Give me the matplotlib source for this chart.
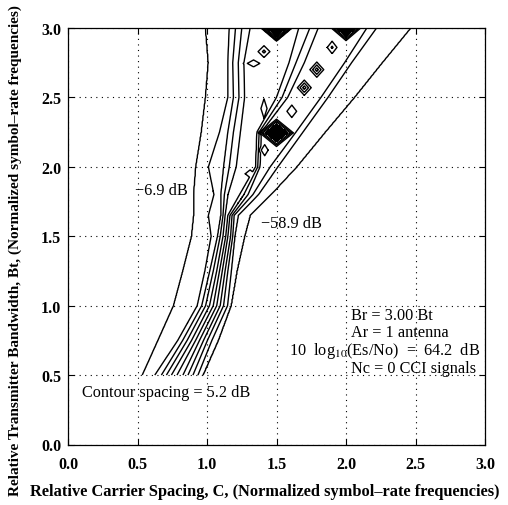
import numpy as np
import matplotlib
matplotlib.use('Agg')
import matplotlib.pyplot as plt

plt.rcParams['font.family'] = ['Liberation Serif', 'DejaVu Serif']
plt.rcParams['mathtext.fontset'] = 'stix'
plt.rcParams['contour.negative_linestyle'] = 'solid'

# contour levels in dB (spacing 5.2 dB)
levels = [-58.9, -53.7, -48.5, -43.3, -38.1, -32.9, -27.7, -22.5, -17.3, -12.1, -6.9]
levels_lr = levels[::-1]   # -6.9 on the left ... -58.9 on the right

bt_rows = [0.50, 0.75, 1.00, 1.25, 1.50, 1.65, 1.80, 2.00, 2.25, 2.50, 2.75, 3.00]
# C position of each level (-6.9 ... -58.9) on every row
crossings = [
    [0.535, 0.625, 0.672, 0.708, 0.744, 0.784, 0.827, 0.863, 0.899, 0.935, 0.970],
    [0.648, 0.790, 0.825, 0.857, 0.889, 0.918, 0.946, 0.975, 1.003, 1.035, 1.080],
    [0.760, 0.930, 0.962, 0.990, 1.018, 1.045, 1.070, 1.095, 1.119, 1.148, 1.172],
    [0.827, 0.985, 1.020, 1.045, 1.070, 1.090, 1.110, 1.130, 1.150, 1.175, 1.215],
    [0.890, 1.030, 1.076, 1.095, 1.115, 1.135, 1.150, 1.170, 1.185, 1.200, 1.270],
    [0.905, 1.010, 1.100, 1.115, 1.130, 1.150, 1.165, 1.180, 1.195, 1.225, 1.310],
    [0.905, 1.050, 1.100, 1.125, 1.150, 1.235, 1.265, 1.295, 1.330, 1.370, 1.460],
    [0.920, 1.010, 1.120, 1.160, 1.210, 1.350, 1.365, 1.380, 1.455, 1.510, 1.645],
    [0.960, 1.090, 1.150, 1.190, 1.240, 1.360, 1.375, 1.390, 1.640, 1.690, 1.850],
    [0.990, 1.150, 1.190, 1.230, 1.270, 1.500, 1.540, 1.580, 1.820, 1.870, 2.060],
    [1.010, 1.150, 1.185, 1.225, 1.265, 1.590, 1.640, 1.700, 1.990, 2.040, 2.260],
    [0.990, 1.160, 1.205, 1.250, 1.310, 1.660, 1.740, 1.800, 2.150, 2.220, 2.465],
]

# closed islands: centre C, centre Bt, half width, half height, floor (dB), rise (dB)
isl_c = [1.415, 1.50, 1.61, 1.70, 1.79, 1.90, 2.00, 1.50, 1.31, 1.41, 1.335, 1.41]
isl_bt = [2.12, 2.245, 2.40, 2.57, 2.70, 2.86, 3.00, 3.00, 1.95, 2.42, 2.745, 2.83]
isl_w = [0.025, 0.080, 0.035, 0.050, 0.050, 0.035, 0.070, 0.065, 0.035, 0.022, 0.045, 0.030]
isl_h = [0.040, 0.065, 0.045, 0.055, 0.055, 0.045, 0.060, 0.055, 0.028, 0.070, 0.025, 0.030]
isl_floor = [-50, -100, -50, -62, -62, -55, -100, -100, -34, -34, -34, -40]
isl_rise = [1.5, 34, 1.5, 13.5, 13.5, 6.5, 34, 34, 1.1, 1.1, 1.1, 5]

xg = np.linspace(0, 3, 601)
yg = np.linspace(0.5, 3.0, 501)
cross = np.array(crossings)

Z = np.zeros((len(yg), len(xg)))
for i, y in enumerate(yg):
    xc = [np.interp(y, bt_rows, cross[:, k]) for k in range(11)]
    xs, zs = [0.0], [0.0]
    for k in range(11):
        xs.append(xc[k]); zs.append(levels_lr[k])
        if k < 10 and xc[k + 1] - xc[k] > 0.12:
            mid = 0.5 * (levels_lr[k] + levels_lr[k + 1])
            xs += [xc[k] + 0.03, xc[k + 1] - 0.03]
            zs += [mid + 0.4, mid - 0.4]
    xs.append(3.0); zs.append(-64.0)
    Z[i] = np.interp(xg, xs, zs)

X, Y = np.meshgrid(xg, yg)
for cx, cy, w, h, fl, r in zip(isl_c, isl_bt, isl_w, isl_h, isl_floor, isl_rise):
    d = np.abs(X - cx) / w + np.abs(Y - cy) / h
    Z = np.minimum(Z, fl + r * d + 80 * np.maximum(d - 1.6, 0))

fig = plt.figure(figsize=(5.08, 5.06), dpi=100)
ax = fig.add_axes([68 / 508, 60.5 / 506, 417 / 508, 416.5 / 506])

ax.contourf(X, Y, Z, levels=[-200, -66], colors='black')
ax.contour(X, Y, Z, levels=levels, colors='black', linewidths=1.0)

ticks = [0.0, 0.5, 1.0, 1.5, 2.0, 2.5, 3.0]
ax.set_xlim(0, 3)
ax.set_ylim(0, 3)
ax.set_xticks(ticks)
ax.set_yticks(ticks)
ax.set_xticklabels(['%.1f' % t for t in ticks], fontweight='bold')
ax.set_yticklabels(['%.1f' % t for t in ticks], fontweight='bold')
ax.tick_params(direction='in', top=True, right=True, length=4, width=0.8,
               labelsize=11.5)
ax.tick_params(axis='x', pad=8)
ax.tick_params(axis='y', pad=5)
ax.grid(True, color='black', linestyle=(0, (1, 4)), linewidth=0.8)
for s in ax.spines.values():
    s.set_linewidth(0.9)

fig.text(265 / 508, 1 - 492 / 506,
         'Relative Carrier Spacing, C, (Normalized symbol\u2013rate frequencies)',
         fontsize=11.8, fontweight='bold', ha='center', va='center')
fig.text(15 / 508, 1 - 251 / 506,
         'Relative Transmitter Bandwidth, Bt, (Normalized symbol\u2013rate frequencies)',
         fontsize=11.0, fontweight='bold', ha='center', va='center', rotation=90)

fs = 11.7
ax.text(0.86, 1.83, '\u22126.9 dB', ha='right', va='center', fontsize=fs)
ax.text(1.39, 1.595, '\u221258.9 dB', ha='left', va='center', fontsize=fs)
ax.text(0.10, 0.38, 'Contour spacing = 5.2 dB', ha='left', va='center', fontsize=fs)
ax.text(2.035, 0.93, 'Br = 3.00 Bt', ha='left', va='center', fontsize=fs)
ax.text(2.035, 0.81, 'Ar = 1 antenna', ha='left', va='center', fontsize=fs)
ax.text(1.59, 0.68, r'10  log$_{10}$(Es/No)  =  64.2  dB', ha='left', va='center',
        fontsize=fs)
ax.text(2.035, 0.548, 'Nc = 0 CCI signals', ha='left', va='center', fontsize=fs)

fig.savefig('out.png', dpi=100)
